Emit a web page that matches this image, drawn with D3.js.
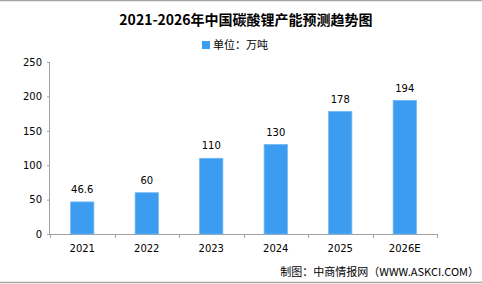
<!DOCTYPE html>
<html>
<head>
<meta charset="utf-8">
<script src="https://cdn.jsdelivr.net/npm/d3@7"></script>
<style>
  body { margin: 0; background: #fff; }
  svg { display: block; }
</style>
</head>
<body>
<div id="chart"></div>
<script>
var years = ['2021', '2022', '2023', '2024', '2025', '2026E'];
var capacity = [46.6, 60, 110, 130, 178, 194];
var yTicks = [0, 50, 100, 150, 200, 250];

var width = 482, height = 284;
var margin = {left: 50, right: 45, top: 62, bottom: 50};

var svg = d3.select('#chart').append('svg')
  .attr('width', width)
  .attr('height', height);

// frame lines top & bottom
svg.append('line').attr('x1', 0).attr('x2', width).attr('y1', 0.5).attr('y2', 0.5)
  .attr('stroke', '#a6a6a6').attr('stroke-width', 1.5);
svg.append('line').attr('x1', 0).attr('x2', width).attr('y1', 282.5).attr('y2', 282.5)
  .attr('stroke', '#a6a6a6').attr('stroke-width', 1.5);

var x = d3.scaleBand()
  .domain(years)
  .range([margin.left, width - margin.right])
  .paddingInner(0.64)
  .paddingOuter(0.32);

var y = d3.scaleLinear()
  .domain([0, 250])
  .range([height - margin.bottom, margin.top]);

// title
svg.append('text')
  .attr('x', 246).attr('y', 25)
  .attr('text-anchor', 'middle')
  .style('font-family', '"Noto Sans CJK SC", sans-serif')
  .style('font-weight', 'bold')
  .style('font-size', '14px')
  .attr('fill', '#000')
  .text('2021-2026年中国碳酸锂产能预测趋势图');

// legend
svg.append('rect').attr('x', 202).attr('y', 41).attr('width', 8).attr('height', 8)
  .attr('fill', '#3c9cf0');
svg.append('text')
  .attr('x', 213).attr('y', 49)
  .style('font-family', '"Noto Sans CJK SC", sans-serif')
  .style('font-size', '11px')
  .attr('fill', '#000')
  .text('单位：万吨');

// y axis
var yAxis = svg.append('g')
  .attr('transform', 'translate(' + margin.left + ',0)')
  .call(d3.axisLeft(y).tickValues(yTicks).tickSize(3).tickPadding(5));
yAxis.select('.domain').attr('stroke', '#a0a0a0').attr('d', 'M-0.5,' + y(250) + 'V' + y(0));
yAxis.selectAll('.tick line').attr('stroke', '#a0a0a0');
yAxis.selectAll('.tick text')
  .style('font-family', '"DejaVu Sans", sans-serif')
  .style('font-size', '10px')
  .attr('fill', '#000');

// x axis with ticks between categories
var xAxisG = svg.append('g')
  .attr('transform', 'translate(0,' + y(0) + ')');
xAxisG.append('line')
  .attr('x1', margin.left).attr('x2', width - margin.right)
  .attr('y1', 0.5).attr('y2', 0.5)
  .attr('stroke', '#a0a0a0');
var step = x.step();
var bounds = d3.range(years.length + 1).map(function(i){ return margin.left + i * step; });
xAxisG.selectAll('line.sep')
  .data(bounds)
  .enter().append('line')
  .attr('class', 'sep')
  .attr('x1', function(d){ return Math.round(d) + 0.5; })
  .attr('x2', function(d){ return Math.round(d) + 0.5; })
  .attr('y1', 0).attr('y2', 4)
  .attr('stroke', '#a0a0a0');
xAxisG.selectAll('text')
  .data(years)
  .enter().append('text')
  .attr('x', function(d){ return x(d) + x.bandwidth() / 2; })
  .attr('y', 18)
  .attr('text-anchor', 'middle')
  .style('font-family', '"DejaVu Sans", sans-serif')
  .style('font-size', '10px')
  .attr('fill', '#000')
  .text(function(d){ return d; });

// bars
svg.selectAll('rect.bar')
  .data(capacity)
  .enter().append('rect')
  .attr('class', 'bar')
  .attr('x', function(d, i){ return x(years[i]); })
  .attr('y', function(d){ return y(d); })
  .attr('width', x.bandwidth())
  .attr('height', function(d){ return y(0) - y(d); })
  .attr('fill', '#3c9cf0')
  .attr('stroke', '#6db6f5')
  .attr('stroke-width', 0.8);

// value labels
svg.selectAll('text.val')
  .data(capacity)
  .enter().append('text')
  .attr('class', 'val')
  .attr('x', function(d, i){ return x(years[i]) + x.bandwidth() / 2; })
  .attr('y', function(d){ return y(d) - 9; })
  .attr('text-anchor', 'middle')
  .style('font-family', '"DejaVu Sans", sans-serif')
  .style('font-size', '10px')
  .attr('fill', '#000')
  .text(function(d){ return d; });

// source
svg.append('text')
  .attr('x', 479).attr('y', 276)
  .attr('text-anchor', 'end')
  .style('font-family', '"Noto Sans CJK SC", sans-serif')
  .style('font-size', '11px')
  .attr('fill', '#000')
  .text('制图：中商情报网（WWW.ASKCI.COM）');
</script>
</body>
</html>
